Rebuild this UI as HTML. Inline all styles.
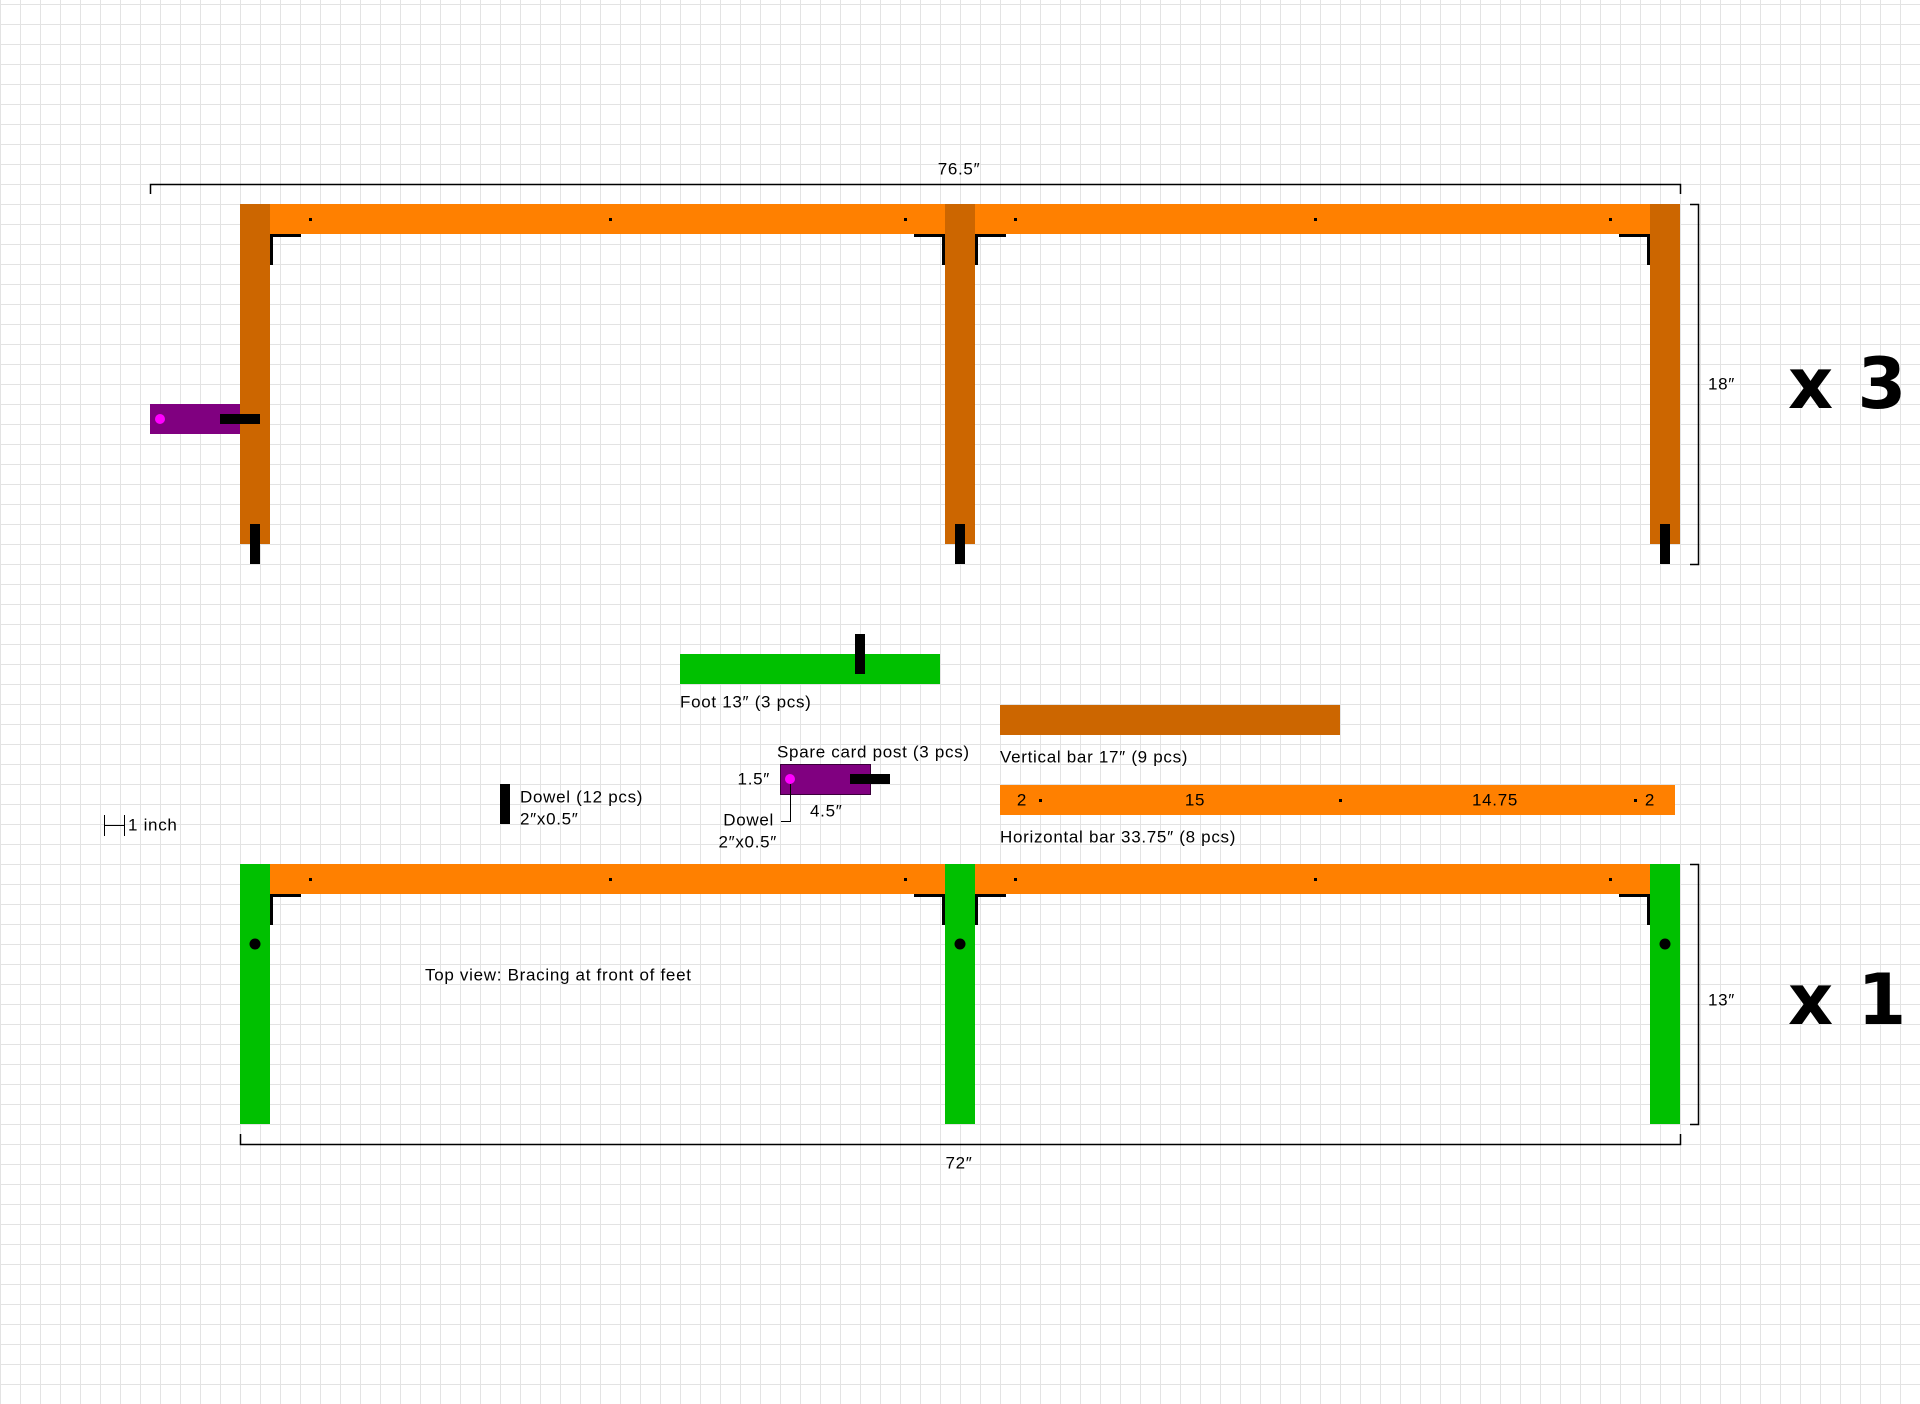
<!DOCTYPE html>
<html><head><meta charset="utf-8"><style>
html,body{margin:0;padding:0;background:#fff}
svg{display:block}
text{font-family:"Liberation Sans",sans-serif;font-size:17px;letter-spacing:0.7px;fill:#000;dominant-baseline:central}
</style></head><body>
<svg width="1920" height="1404" viewBox="0 0 1920 1404" xmlns="http://www.w3.org/2000/svg">
<defs>
<pattern id="g" x="0" y="4" width="20" height="20" patternUnits="userSpaceOnUse">
<path d="M0.5 0V20M0 0.5H20" stroke="#e3e3e3" stroke-width="1" fill="none"/>
</pattern>
</defs>
<rect width="1920" height="1404" fill="url(#g)"/>

<!-- TOP FRAME -->
<path d="M150.5 194V184.5H1680.5V194" stroke="#000" stroke-width="1.5" fill="none"/>
<text x="959" y="169" text-anchor="middle">76.5″</text>
<rect x="270" y="204" width="675" height="30" fill="#ff8000"/>
<rect x="975" y="204" width="675" height="30" fill="#ff8000"/>
<rect x="240" y="204" width="30" height="340" fill="#cc6600"/>
<rect x="945" y="204" width="30" height="340" fill="#cc6600"/>
<rect x="1650" y="204" width="30" height="340" fill="#cc6600"/>
<g fill="#000">
<rect x="309" y="218" width="3" height="3"/><rect x="609" y="218" width="3" height="3"/><rect x="904" y="218" width="3" height="3"/>
<rect x="1014" y="218" width="3" height="3"/><rect x="1314" y="218" width="3" height="3"/><rect x="1609" y="218" width="3" height="3"/>
<path d="M270 234h31v3h-28v28h-3z"/>
<path d="M945 234h-31v3h28v28h3z"/>
<path d="M975 234h31v3h-28v28h-3z"/>
<path d="M1650 234h-31v3h28v28h3z"/>
<rect x="250" y="524" width="10" height="40"/>
<rect x="955" y="524" width="10" height="40"/>
<rect x="1660" y="524" width="10" height="40"/>
</g>
<rect x="150" y="404" width="90" height="30" fill="#800080"/>
<circle cx="160" cy="419" r="5" fill="#ff00ff"/>
<rect x="220" y="414" width="40" height="10" fill="#000"/>
<path d="M1690 204.5H1698.5V564.5H1690" stroke="#000" stroke-width="1.5" fill="none"/>
<text x="1708" y="384">18″</text>
<text x="1788" y="384" style="font-family:'DejaVu Sans',sans-serif;font-weight:bold;font-size:70px;letter-spacing:0">x 3</text>

<!-- PARTS -->
<rect x="680" y="654" width="260" height="30" fill="#00c000"/>
<rect x="855" y="634" width="10" height="40" fill="#000"/>
<text x="680" y="702">Foot 13″ (3 pcs)</text>

<rect x="1000" y="705" width="340" height="30" fill="#cc6600"/>
<text x="1000" y="757">Vertical bar 17″ (9 pcs)</text>

<rect x="1000" y="785" width="675" height="30" fill="#ff8000"/>
<g fill="#000"><rect x="1039" y="799" width="3" height="3"/><rect x="1339" y="799" width="3" height="3"/><rect x="1634" y="799" width="3" height="3"/></g>
<text x="1022" y="800" text-anchor="middle">2</text>
<text x="1195" y="800" text-anchor="middle">15</text>
<text x="1495" y="800" text-anchor="middle">14.75</text>
<text x="1650" y="800" text-anchor="middle">2</text>
<text x="1000" y="837">Horizontal bar 33.75″ (8 pcs)</text>

<text x="777" y="752">Spare card post (3 pcs)</text>
<rect x="780.5" y="764.5" width="90" height="30" fill="#800080" stroke="#3a003a" stroke-width="1"/>
<circle cx="790" cy="779" r="5" fill="#ff00ff"/>
<rect x="850" y="774" width="40" height="10" fill="#000"/>
<text x="770" y="779" text-anchor="end">1.5″</text>
<text x="810" y="811">4.5″</text>
<path d="M790.5 784V821.5H781" stroke="#000" stroke-width="1" fill="none"/>
<text x="774" y="820" text-anchor="end">Dowel</text>
<text x="777" y="842" text-anchor="end">2″x0.5″</text>

<rect x="500" y="784" width="10" height="40" fill="#000"/>
<text x="520" y="797">Dowel (12 pcs)</text>
<text x="520" y="819">2″x0.5″</text>

<path d="M104.5 815V836M104.5 825.5H124.5M124.5 815V836" stroke="#000" stroke-width="1" fill="none"/>
<text x="128" y="825">1 inch</text>

<!-- BOTTOM FRAME -->
<rect x="270" y="864" width="675" height="30" fill="#ff8000"/>
<rect x="975" y="864" width="675" height="30" fill="#ff8000"/>
<rect x="240" y="864" width="30" height="260" fill="#00c000"/>
<rect x="945" y="864" width="30" height="260" fill="#00c000"/>
<rect x="1650" y="864" width="30" height="260" fill="#00c000"/>
<g fill="#000">
<rect x="309" y="878" width="3" height="3"/><rect x="609" y="878" width="3" height="3"/><rect x="904" y="878" width="3" height="3"/>
<rect x="1014" y="878" width="3" height="3"/><rect x="1314" y="878" width="3" height="3"/><rect x="1609" y="878" width="3" height="3"/>
<path d="M270 894h31v3h-28v28h-3z"/>
<path d="M945 894h-31v3h28v28h3z"/>
<path d="M975 894h31v3h-28v28h-3z"/>
<path d="M1650 894h-31v3h28v28h3z"/>
<circle cx="255" cy="944" r="5.5"/>
<circle cx="960" cy="944" r="5.5"/>
<circle cx="1665" cy="944" r="5.5"/>
</g>
<text x="425" y="975">Top view: Bracing at front of feet</text>
<path d="M1690 864.5H1698.5V1124.5H1690" stroke="#000" stroke-width="1.5" fill="none"/>
<text x="1708" y="1000">13″</text>
<text x="1788" y="1000" style="font-family:'DejaVu Sans',sans-serif;font-weight:bold;font-size:70px;letter-spacing:0">x 1</text>
<path d="M240.5 1134V1144.5H1680.5V1134" stroke="#000" stroke-width="1.5" fill="none"/>
<text x="959" y="1163" text-anchor="middle">72″</text>
</svg>
</body></html>
